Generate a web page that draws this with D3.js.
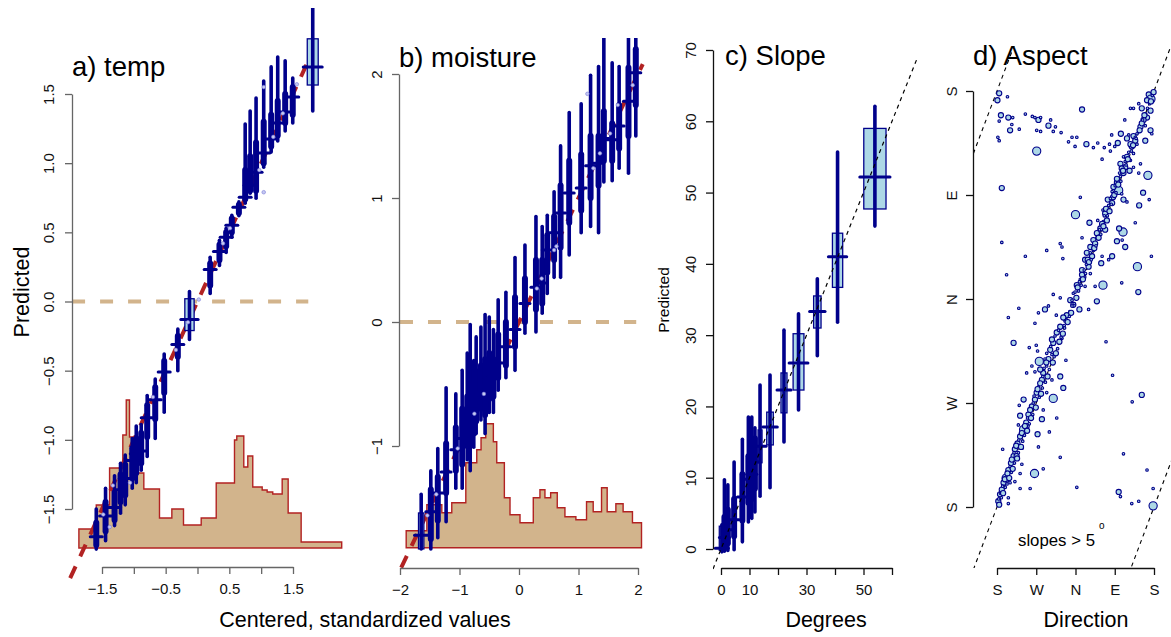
<!DOCTYPE html>
<html>
<head>
<meta charset="utf-8">
<style>
  body { margin: 0; background: #fff; }
  svg text { font-family: "Liberation Sans", Arial, sans-serif; }
</style>
</head>
<body>
<script src="https://d3js.org/d3.v7.min.js"></script>
<svg width="1171" height="637" style="display:block"></svg>
<script>
const navy = "#00008B", lightblue = "#ADD8E6", tan = "#D2B48C", firebrick = "#B22222"

// bars: [x, lo95, lo50, mean, hi50, hi95, box half width (0 = no box)]
const tempBars = [
  [-1.59, -1.79, -1.76, -1.70, -1.60, -1.50, 0],
  [-1.444, -1.73, -1.66, -1.55, -1.45, -1.35, 0],
  [-1.303, -1.62, -1.58, -1.49, -1.38, -1.26, 0],
  [-1.209, -1.53, -1.45, -1.36, -1.25, -1.17, 0],
  [-1.135, -1.47, -1.40, -1.28, -1.18, -1.11, 0],
  [-1.025, -1.35, -1.28, -1.15, -1.06, -0.99, 0],
  [-0.962, -1.31, -1.24, -1.10, -0.99, -0.90, 0],
  [-0.884, -1.22, -1.17, -1.08, -0.95, -0.89, 0],
  [-0.79, -1.12, -0.98, -0.84, -0.75, -0.68, 0],
  [-0.664, -0.99, -0.85, -0.71, -0.62, -0.56, 0],
  [-0.523, -0.80, -0.66, -0.51, -0.43, -0.38, 0],
  [-0.309, -0.50, -0.40, -0.31, -0.25, -0.20, 0],
  [-0.126, -0.275, -0.21, -0.13, 0.02, 0.072, 0.073],
  [0.199, 0.058, 0.116, 0.232, 0.275, 0.319, 0],
  [0.345, 0.261, 0.30, 0.362, 0.41, 0.442, 0],
  [0.45, 0.355, 0.40, 0.464, 0.50, 0.529, 0],
  [0.539, 0.464, 0.50, 0.551, 0.60, 0.623, 0],
  [0.65, 0.62, 0.64, 0.681, 0.70, 0.72, 0],
  [0.749, 0.71, 0.74, 0.754, 0.95, 1.283, 0],
  [0.827, 0.783, 0.80, 0.841, 1.05, 1.377, 0],
  [0.92, 0.746, 0.80, 0.935, 1.15, 1.471, 0],
  [1.04, 0.971, 1.00, 1.073, 1.30, 1.594, 0],
  [1.157, 1.08, 1.12, 1.174, 1.35, 1.696, 0],
  [1.26, 1.16, 1.20, 1.29, 1.45, 1.768, 0],
  [1.377, 1.232, 1.29, 1.37, 1.50, 1.74, 0],
  [1.496, 1.29, 1.35, 1.478, 1.55, 1.616, 0],
  [1.81, 1.377, 1.565, 1.696, 1.899, 2.15, 0.086]
]
const tempDots = [[0.02, 0.014], [1.04, 0.79], [1.04, 1.55], [1.19, 1.19], [1.34, 1.36], [1.56, 1.57],
  [0.4, 0.42], [0.51, 0.53], [0.97, 0.95], [-1.48, -1.54], [-1.38, -1.63], [-1.33, -1.33],
  [-1.06, -1.31], [-0.7, -0.69], [-0.34, -0.35], [-0.15, -0.15]]
const tempHistEdges = [-1.863, -1.590, -1.381, -1.173, -1.119, -1.068, -0.937, -0.843, -0.597, -0.403, -0.220,
  0.058, 0.294, 0.581, 0.617, 0.727, 0.790, 0.868, 1.016, 1.094, 1.182, 1.330, 1.424, 1.628, 2.265]
const tempHistCounts = [19, 43, 80, 113, 148, 111, 75, 59, 30, 39, 23, 30, 65, 108, 112, 81, 92, 61, 58, 56, 54, 69, 35, 6]
const tempFit = [-2.0, 1.83]
const tempZero = [-1.97, 1.74]
const tempXTicks = [-1.5, -1, -0.5, 0, 0.5, 1, 1.5]
const tempXLabels = ["\u22121.5", "", "\u22120.5", "", "0.5", "", "1.5"]
const tempYTicks = [-1.5, -1, -0.5, 0, 0.5, 1, 1.5]
const tempYLabels = ["\u22121.5", "\u22121.0", "\u22120.5", "0.0", "0.5", "1.0", "1.5"]

const moistBars = [
  [-1.644, -1.83, -1.83, -1.72, -1.54, -1.39, 0.045],
  [-1.482, -1.83, -1.75, -1.53, -1.35, -1.20, 0],
  [-1.365, -1.74, -1.60, -1.38, -1.25, -1.02, 0],
  [-1.225, -1.61, -1.38, -1.21, -0.98, -0.53, 0],
  [-1.062, -1.34, -1.20, -1.03, -0.85, -0.58, 0],
  [-0.955, -1.34, -1.15, -0.94, -0.70, -0.39, 0],
  [-0.87, -1.11, -1.00, -0.85, -0.60, -0.25, 0],
  [-0.82, -1.20, -1.00, -0.75, -0.50, -0.02, 0],
  [-0.76, -1.01, -0.90, -0.68, -0.50, -0.31, 0],
  [-0.72, -0.90, -0.80, -0.62, -0.40, -0.12, 0],
  [-0.64, -0.79, -0.70, -0.58, -0.35, -0.04, 0],
  [-0.57, -0.90, -0.75, -0.52, -0.30, 0.06, 0],
  [-0.50, -0.73, -0.62, -0.45, -0.25, 0.04, 0],
  [-0.43, -0.73, -0.60, -0.44, -0.30, -0.06, 0],
  [-0.35, -0.55, -0.45, -0.33, -0.10, 0.18, 0],
  [-0.22, -0.45, -0.35, -0.20, 0.00, 0.24, 0],
  [-0.067, -0.39, -0.20, -0.06, 0.20, 0.52, 0],
  [0.10, -0.09, 0.00, 0.15, 0.35, 0.62, 0],
  [0.285, -0.08, 0.10, 0.28, 0.50, 0.85, 0],
  [0.39, 0.07, 0.15, 0.315, 0.50, 0.77, 0],
  [0.475, 0.23, 0.40, 0.58, 0.70, 0.86, 0],
  [0.59, 0.36, 0.50, 0.72, 0.85, 1.05, 0],
  [0.699, 0.36, 0.60, 0.88, 1.10, 1.42, 0],
  [0.844, 0.54, 0.80, 1.04, 1.30, 1.69, 0],
  [1.045, 0.72, 0.90, 1.08, 1.35, 1.76, 0],
  [1.203, 0.77, 1.00, 1.26, 1.50, 1.99, 0],
  [1.337, 0.72, 1.10, 1.28, 1.50, 2.06, 0],
  [1.426, 1.13, 1.30, 1.48, 1.70, 2.35, 0],
  [1.566, 1.14, 1.30, 1.47, 1.60, 2.09, 0],
  [1.683, 1.24, 1.40, 1.58, 1.75, 2.06, 0],
  [1.84, 1.20, 1.50, 1.78, 2.05, 2.35, 0],
  [1.963, 1.50, 1.75, 2.01, 2.20, 2.35, 0]
]
const moistDots = [[1.15, 1.84], [1.91, 1.91], [1.66, 1.75], [1.53, 1.52], [1.25, 1.24], [1.36, 1.36],
  [0.63, 0.61], [0.59, 0.58], [0.30, 0.27], [0.38, 0.35], [-0.59, -0.58], [-0.75, -0.74],
  [-1.39, -1.39], [-1.54, -1.56], [-1.03, -1.02]]
const moistHistEdges = [-1.896, -1.549, -1.297, -1.13, -0.894, -0.71, -0.638, -0.559, -0.431, -0.374, -0.246,
  -0.151, 0.017, 0.24, 0.352, 0.436, 0.532, 0.643, 0.772, 0.956, 1.135, 1.247, 1.387, 1.482, 1.628, 1.750, 1.907, 2.059]
const moistHistCounts = [17, 43, 35, 45, 85, 98, 110, 124, 106, 85, 50, 33, 25, 50, 58, 50, 55, 40, 31, 28, 46, 36, 60, 36, 44, 36, 25]
const moistFit = [-1.98, 2.08]
const moistZero = [-2.0, 1.97]
const moistXTicks = [-2, -1, 0, 1, 2]
const moistXLabels = ["\u22122", "\u22121", "0", "1", "2"]
const moistYTicks = [-1, 0, 1, 2]
const moistYLabels = ["\u22121", "0", "1", "2"]

const slopeBars = [
  [0.3, -0.4, -0.2, 0.1, 3.2, 3.4, 0.9],
  [1.2, -0.3, 0.5, 1.6, 4.5, 9.7, 0],
  [2.4, -0.2, 0.8, 2.7, 5.5, 9.0, 0],
  [4.6, -0.1, 1.8, 4.1, 7.0, 12.2, 0],
  [7.5, 1.0, 4.0, 7.3, 10.5, 15.4, 0],
  [9.6, 3.8, 6.5, 9.8, 13.0, 18.5, 0],
  [10.8, 4.3, 7.0, 10.5, 14.0, 18.5, 0],
  [11.9, 5.2, 8.5, 12.2, 15.5, 17.0, 0],
  [13.7, 7.4, 12.1, 14.4, 16.7, 23.0, 0.7],
  [17.2, 8.6, 14.6, 17.1, 19.2, 24.4, 1.15],
  [22.1, 15.0, 19.1, 22.3, 24.7, 30.7, 1.05],
  [27.2, 19.5, 22.3, 26.1, 30.2, 33.0, 1.9],
  [33.8, 27.1, 31.0, 33.3, 35.5, 37.9, 1.3],
  [40.9, 31.8, 36.7, 41.0, 44.3, 55.7, 1.8],
  [54.0, 45.3, 47.7, 52.2, 59.0, 62.1, 3.9]
]
const slopeFit = [-2.8, 68.8]
const slopeXTicks = [0, 10, 20, 30, 40, 50, 60]
const slopeXLabels = ["0", "10", "", "30", "", "50", ""]
const slopeYTicks = [0, 10, 20, 30, 40, 50, 60, 70]
const slopeYLabels = ["0", "10", "20", "30", "40", "50", "60", "70"]

// aspect points: [observed direction, predicted direction, weight]
const aspectPts = [
  [5,358,4],[1,352,4],[24,355,1],[9,339,4],[26,337,4],[36,337,1],[5,334,1],[30,326,4],[34,331,1],[51,327,1],
  [2,320,1],[5,317,1],[65,340,1],[81,338,1],[95,335,4],[87,337,1],[100,337,1],[91,326,1],[100,325,1],[118,330,4],
  [123,335,1],[134,329,1],[129,325,1],[147,324,1],[91,308,10],[195,344,4],[164,316,1],[172,320,1],[183,320,1],[179,312,1],
  [205,314,4],[221,311,1],[231,315,1],[241,301,1],[246,311,1],[260,308,1],[258,314,1],[263,322,1],[270,312,1],[277,315,4],
  [284,323,4],[293,335,1],[306,345,1],[313,345,1],[325,349,1],[332,345,4],[348,357,4],[353,353,10],[357,358,1],[344,352,4],
  [352,343,4],[344,337,4],[336,335,4],[340,330,1],[329,329,4],[352,326,4],[355,323,1],[321,323,1],[313,321,4],[302,322,1],
  [298,319,4],[317,317,4],[340,317,4],[321,314,1],[309,312,4],[313,306,1],[298,303,4],[306,300,1],[290,303,1],[283,297,4],
  [294,294,4],[304,291,4],[313,294,1],[329,297,1],[346,287,10],[325,289,1],[290,289,4],[283,286,1],[275,281,4],[279,274,10],
  [267,277,4],[286,271,1],[264,273,1],[335,272,4],[349,266,1],[326,261,4],[298,264,1],[290,266,4],[254,266,4],[264,263,4],
  [243,257,1],[248,254,4],[252,248,4],[244,247,1],[231,248,1],[237,241,4],[248,240,4],[229,237,4],[289,238,10],[280,241,4],
  [287,231,1],[275,230,4],[294,225,4],[317,246,1],[221,231,4],[214,225,4],[221,222,1],[206,220,4],[218,217,4],[202,214,4],
  [241,217,1],[264,217,4],[256,214,1],[239,211,4],[210,208,4],[195,205,4],[198,199,4],[214,202,1],[191,197,1],[183,192,4],
  [202,191,1],[225,191,1],[243,192,10],[229,178,4],[180,253,10],[212,246,4],[195,233,1],[191,268,1],[322,208,10],[354,217,1],
  [286,194,1],[324,186,4],[175,185,1],[168,179,4],[175,175,4],[160,166,4],[172,168,1],[149,225,1],[145,228,1],[151,215,1],
  [114,222,1],[65,217,1],[11,229,1],[11,276,4],[22,201,1],[129,184,1],[145,181,1],[189,171,4],[210,171,1],[110,171,4],
  [95,168,1],[118,174,1],[136,166,1],[50,172,1],[26,164,1],
  [156,161,1],[145,156,4],[137,151,4],[149,146,1],[129,142,4],[122,136,4],[126,132,1],[118,128,4],[114,122,1],[106,116,4],
  [103,110,4],[95,104,1],[91,99,4],[87,93,4],[80,87,4],[72,80,4],[67,73,4],[61,67,10],[53,61,4],[47,55,4],
  [41,50,4],[38,44,4],[32,38,4],[26,32,4],[21,25,10],[15,21,4],[11,15,4],[7,11,4],[3,5,4],[5,2,4],
  [87,159,1],[38,142,4],[74,138,1],[90,140,1],[93,135,1],[97,126,10],[110,128,1],[80,122,1],[68,116,1],[87,117,1],
  [99,119,4],[145,113,4],[126,110,1],[152,103,4],[129,94,10],[114,99,1],[61,93,4],[51,88,1],[106,84,1],[103,76,4],
  [53,79,4],[137,77,1],[120,65,1],[93,63,4],[68,70,4],[49,71,1],[95,52,1],[13,50,1],[58,51,1],[45,44,4],
  [57,37,1],[86,29,10],[106,33,1],[53,29,1],[30,21,1],[41,22,1],[53,16,1],[76,16,1],[26,8,1],[145,43,1],
  [183,17,1],[250,143,1],[265,114,1],[310,91,1],[332,97,4],[290,46,1],[344,32,1],[279,13,4],[283,9,1],[309,3,1],
  [325,5,1],[358,16,1],[358,1,10],[158,127,1],[154,157,1],[159,162,1],[26,3,1],
  [172,174,1],[167,169,1],[152,164,4],[141,153,1],[133,148,1],[126,145,4],[123,139,1],[114,133,1],[113,125,4],[108,120,1],
  [105,113,1],[99,107,4],[93,102,4],[85,96,1],[83,90,1],[76,84,4],[70,77,1],[64,70,4],[57,64,4],[50,58,1],
  [44,53,4],[39,47,1],[34,41,4],[30,35,1],[24,29,4],[18,24,4],[13,18,1],[8,12,1],[4,7,1],
  [359,359,4],[350,349,1],[341,340,1],[332,332,4],[325,325,1],[317,320,1],[306,314,4],[302,307,1],[294,299,1],[286,293,4],
  [281,289,1],[275,284,4],[271,278,1],[266,268,4],[260,267,1],[256,261,1],[250,258,4],[246,252,1],[241,245,4],[235,240,1],
  [229,233,1],[225,228,4],[220,224,1],[214,220,1],[208,214,4],[205,210,1],[200,205,1],[195,201,4],[189,195,1],[185,190,4],
  [179,186,1],[172,179,1],
  [10,8,1],[14,12,4],[19,17,1],[23,20,1],[28,25,4],[33,30,1],[36,33,4],[40,38,1],[46,42,4],[49,47,1],
  [55,52,4],[59,57,1],[63,62,1],[69,66,4],[74,72,1],[78,77,4],[82,80,1],[89,86,4],[97,95,1],[101,98,4],
  [104,103,1],[111,108,1],[116,113,4],[120,119,1],[128,125,4],[131,130,1],[135,133,4],[139,137,1],[143,143,4],[147,147,1],
  [151,150,4],[155,155,1],[162,160,4],[166,165,1],[170,168,4],[177,176,1],[182,181,4],[187,187,1],[193,192,1],[197,197,4],
  [203,202,1],[211,212,4],[216,214,1],[223,224,4],[227,226,1],[233,233,4],[238,236,1],[244,243,4],[253,252,1],[258,256,4],
  [262,262,1],[269,270,4],[273,272,1],[278,279,4],[284,282,1],[289,291,4],[296,296,1],[300,301,4],[308,308,1],[312,313,4],
  [319,319,1],[327,326,4],[334,335,1],[338,339,4],[345,345,1],[353,351,4],[356,356,1]
]
const aspectOffsets = [-360, 0, 360]
const compassTicks = [0, 90, 180, 270, 360]
const compassLabels = ["S", "W", "N", "E", "S"]

const svg = d3.select("svg")

const xA = d3.scaleLinear().domain([-1.5, 1.5]).range([102, 293])
const yA = d3.scaleLinear().domain([-1.5, 1.5]).range([509, 94])
const xB = d3.scaleLinear().domain([-2, 2]).range([400, 638])
const yB = d3.scaleLinear().domain([-1, 2]).range([446, 74])
const xC = d3.scaleLinear().domain([0, 60]).range([721, 892])
const yC = d3.scaleLinear().domain([0, 70]).range([549, 50])
const xD = d3.scaleLinear().domain([0, 360]).range([997, 1154])
const yD = d3.scaleLinear().domain([0, 360]).range([507, 91])
const hA = d3.scaleLinear().domain([0, 100]).range([yA(-1.782), yA(-1.782) - 100])
const hB = d3.scaleLinear().domain([0, 100]).range([yB(-1.82), yB(-1.82) - 100])
const rD = d3.scaleSqrt().domain([0, 10]).range([0, 4.1])

function clipped(id, x0, y0, x1, y1) {
  svg.append("clipPath").attr("id", id).append("rect")
    .attr("x", x0).attr("y", y0).attr("width", x1 - x0).attr("height", y1 - y0)
  return svg.append("g").attr("clip-path", "url(#" + id + ")")
}

function hist(g, edges, counts, xs, hs) {
  const pts = [[xs(edges[0]), hs(0)]]
  counts.forEach((c, i) => {
    pts.push([xs(edges[i]), hs(c)])
    pts.push([xs(edges[i + 1]), hs(c)])
  })
  pts.push([xs(edges[edges.length - 1]), hs(0)])
  g.append("path").attr("d", d3.line()(pts) + "Z")
    .attr("fill", tan).attr("stroke", firebrick).attr("stroke-width", 1.4)
}

function diag(g, ends, xs, ys, color, width, dash) {
  g.append("line")
    .attr("x1", xs(ends[0])).attr("y1", ys(ends[0]))
    .attr("x2", xs(ends[1])).attr("y2", ys(ends[1]))
    .attr("stroke", color).attr("stroke-width", width).attr("stroke-dasharray", dash)
}

function zeroLine(g, ends, xs, ys) {
  g.append("line")
    .attr("x1", xs(ends[0])).attr("x2", xs(ends[1]))
    .attr("y1", ys(0)).attr("y2", ys(0))
    .attr("stroke", tan).attr("stroke-width", 4).attr("stroke-dasharray", "13,15")
}

function bars(g, data, xs, ys, tickHalf) {
  g.selectAll("rect.box").data(data.filter(d => d[6] > 0)).join("rect")
    .attr("class", "box")
    .attr("x", d => xs(d[0] - d[6])).attr("width", d => xs(d[0] + d[6]) - xs(d[0] - d[6]))
    .attr("y", d => ys(d[4])).attr("height", d => ys(d[2]) - ys(d[4]))
    .attr("fill", lightblue).attr("stroke", navy).attr("stroke-width", 1.3)
  g.selectAll("line.whisk").data(data).join("line")
    .attr("class", "whisk")
    .attr("x1", d => xs(d[0])).attr("x2", d => xs(d[0]))
    .attr("y1", d => ys(d[1])).attr("y2", d => ys(d[5]))
    .attr("stroke", navy).attr("stroke-width", 3.6).attr("stroke-linecap", "round")
  g.selectAll("line.inner").data(data.filter(d => d[6] === 0)).join("line")
    .attr("class", "inner")
    .attr("x1", d => xs(d[0])).attr("x2", d => xs(d[0]))
    .attr("y1", d => ys(d[2])).attr("y2", d => ys(d[4]))
    .attr("stroke", navy).attr("stroke-width", 6).attr("stroke-linecap", "round")
  g.selectAll("line.mean").data(data).join("line")
    .attr("class", "mean")
    .attr("x1", d => xs(d[0]) - (d[6] > 0 ? xs(d[0] + d[6]) - xs(d[0]) + 4 : tickHalf))
    .attr("x2", d => xs(d[0]) + (d[6] > 0 ? xs(d[0] + d[6]) - xs(d[0]) + 4 : tickHalf))
    .attr("y1", d => ys(d[3])).attr("y2", d => ys(d[3]))
    .attr("stroke", navy).attr("stroke-width", 3).attr("stroke-linecap", "round")
}

function dots(g, data, xs, ys) {
  g.selectAll("circle.obs").data(data).join("circle")
    .attr("class", "obs")
    .attr("cx", d => xs(d[0])).attr("cy", d => ys(d[1])).attr("r", 1.8)
    .attr("fill", "#c4c8f2").attr("stroke", "#7a7ad6").attr("stroke-width", 0.6)
}

function bottomAxis(xs, y, ticks, labels, color) {
  const g = svg.append("g").attr("transform", "translate(0," + y + ")")
    .call(d3.axisBottom(xs).tickValues(ticks).tickSize(7).tickSizeOuter(0).tickPadding(9)
      .tickFormat((d, i) => labels[i]))
  g.select(".domain").attr("stroke", color).attr("stroke-width", 1.3)
  g.selectAll(".tick line").attr("stroke", color).attr("stroke-width", 1.3)
  g.selectAll(".tick text").attr("fill", "#111").attr("font-size", 15)
}

function leftAxis(ys, x, ticks, labels, color, off) {
  const g = svg.append("g").attr("transform", "translate(" + x + ",0)")
    .call(d3.axisLeft(ys).tickValues(ticks).tickSize(7).tickSizeOuter(0)
      .tickFormat((d, i) => labels[i]))
  g.select(".domain").attr("stroke", color).attr("stroke-width", 1.3)
  g.selectAll(".tick line").attr("stroke", color).attr("stroke-width", 1.3)
  g.selectAll(".tick text").attr("fill", "#111").attr("font-size", 15)
    .attr("x", null).attr("dy", null)
    .attr("transform", "translate(" + (-off) + ",0) rotate(-90)")
    .attr("text-anchor", "middle").attr("dominant-baseline", "central")
}

function label(x, y, txt, size, rotate, anchor) {
  svg.append("text")
    .attr("transform", "translate(" + x + "," + y + ")" + (rotate ? " rotate(-90)" : ""))
    .attr("text-anchor", anchor || "middle")
    .attr("dominant-baseline", rotate ? "central" : "auto")
    .attr("font-size", size).attr("fill", "#000").text(txt)
}

// a) temp
const gA = clipped("clipA", 62, 8, 350, 582)
hist(gA, tempHistEdges, tempHistCounts, xA, hA)
zeroLine(gA, tempZero, xA, yA)
diag(gA, tempFit, xA, yA, firebrick, 4, "13,11")
bars(gA, tempBars, xA, yA, 6)
dots(gA, tempDots, xA, yA)
bottomAxis(xA, 567, tempXTicks, tempXLabels, "#666")
leftAxis(yA, 72, tempYTicks, tempYLabels, "#666", 24)

// b) moisture
const gB = clipped("clipB", 396, 38, 648, 572)
hist(gB, moistHistEdges, moistHistCounts, xB, hB)
zeroLine(gB, moistZero, xB, yB)
diag(gB, moistFit, xB, yB, firebrick, 4, "13,11")
bars(gB, moistBars, xB, yB, 5)
dots(gB, moistDots, xB, yB)
bottomAxis(xB, 568, moistXTicks, moistXLabels, "#666")
leftAxis(yB, 399, moistYTicks, moistYLabels, "#666", 23)

// c) Slope
const gC = clipped("clipC", 713, 45, 917, 570)
bars(gC, slopeBars, xC, yC, 5)
diag(gC, slopeFit, xC, yC, "#000", 1.2, "4,4")
bottomAxis(xC, 568, slopeXTicks, slopeXLabels, "#111")
leftAxis(yC, 713, slopeYTicks, slopeYLabels, "#111", 23)

// d) Aspect
const gD = clipped("clipD", 973, 46, 1171, 568)
aspectOffsets.forEach(off => {
  gD.append("line")
    .attr("x1", xD(-80)).attr("y1", yD(-80 + off))
    .attr("x2", xD(440)).attr("y2", yD(440 + off))
    .attr("stroke", "#000").attr("stroke-width", 1.1).attr("stroke-dasharray", "4,4")
})
gD.selectAll("circle.asp").data(aspectPts).join("circle")
  .attr("class", "asp")
  .attr("cx", d => xD(d[0])).attr("cy", d => yD(d[1])).attr("r", d => rD(d[2]))
  .attr("fill", lightblue).attr("stroke", navy).attr("stroke-width", 1.1)
bottomAxis(xD, 568, compassTicks, compassLabels, "#111")
leftAxis(yD, 973, compassTicks, compassLabels, "#111", 22)

// titles and labels
label(72, 76, "a) temp", 27.5, false, "start")
label(399, 67, "b) moisture", 27.5, false, "start")
label(725, 65, "c) Slope", 27.5, false, "start")
label(973, 65, "d) Aspect", 27.5, false, "start")
label(22, 292, "Predicted", 21.5, true)
label(663, 300, "Predicted", 15.5, true)
label(365, 627, "Centered, standardized values", 21.5)
label(826, 627, "Degrees", 21.5)
label(1086, 627, "Direction", 21.5)
label(1018, 546, "slopes > 5", 16.8, false, "start")
label(1099, 529, "o", 10, false, "start")
</script>
</body>
</html>
